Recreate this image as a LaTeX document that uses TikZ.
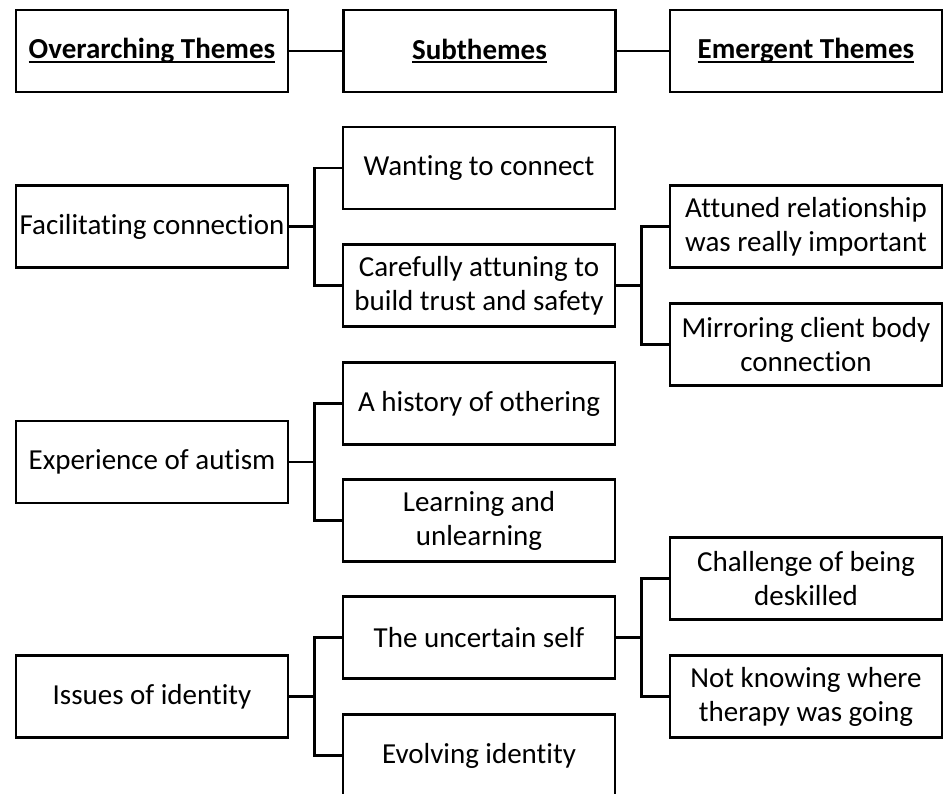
\documentclass[tikz,border=0pt]{standalone}
\usepackage{fontspec}
\setmainfont{Carlito}[Ligatures={NoCommon}]
\newcommand\myul[1]{\setbox0\hbox{#1}\rlap{\rule[-4pt]{\wd0}{2pt}}\box0}
\tikzset{
  box/.style={draw, line width=2.6pt, minimum width=272pt, minimum height=82pt,
    inner sep=0pt, align=center, font=\fontsize{29}{34}\selectfont},
  hbox/.style={box, font=\fontsize{29}{34}\selectfont\bfseries},
  conn/.style={line width=2.6pt}
}
\begin{document}
\begin{tikzpicture}[x=1pt,y=-1pt]
\useasboundingbox (0,0) rectangle (943,793);
\clip (0,0) rectangle (943,793);
% headers
\node[hbox] (h1) at (152,51) {\myul{Overarching Themes}};
\node[hbox] (h2) at (479.5,51) {\myul{Subthemes}};
\node[hbox] (h3) at (806,51) {\myul{Emergent Themes}};
\draw[conn] (h1.east) -- (h2.west);
\draw[conn] (h2.east) -- (h3.west);
% group 1
\node[box] (fac) at (152,226.5) {Facilitating connection};
\node[box] (want) at (479,168) {Wanting to connect};
\node[box] (care) at (479,285.5) {Carefully attuning to\\build trust and safety};
\node[box] (att) at (806,226.5) {Attuned relationship\\was really important};
\node[box] (mir) at (806,344.5) {Mirroring client body\\connection};
% group 2
\node[box] (exp) at (152,462) {Experience of autism};
\node[box] (hist) at (479,403.5) {A history of othering};
\node[box] (learn) at (479,520.5) {Learning and\\unlearning};
% group 3
\node[box] (iss) at (152,696.5) {Issues of identity};
\node[box] (unc) at (479,637.5) {The uncertain self};
\node[box] (evol) at (479,755.5) {Evolving identity};
\node[box] (chal) at (806,578.5) {Challenge of being\\deskilled};
\node[box] (notk) at (806,696.5) {Not knowing where\\therapy was going};
% connectors
\draw[conn] (fac.east) -- ++(26,0);
\draw[conn] (want.west) -- ++(-27,0) |- (care.west);
\draw[conn] (care.east) -- ++(27,0);
\draw[conn] (att.west) -- ++(-27,0) |- (mir.west);
\draw[conn] (exp.east) -- ++(26,0);
\draw[conn] (hist.west) -- ++(-27,0) |- (learn.west);
\draw[conn] (iss.east) -- ++(26,0);
\draw[conn] (unc.west) -- ++(-27,0) |- (evol.west);
\draw[conn] (unc.east) -- ++(27,0);
\draw[conn] (chal.west) -- ++(-27,0) |- (notk.west);
\end{tikzpicture}
\end{document}
